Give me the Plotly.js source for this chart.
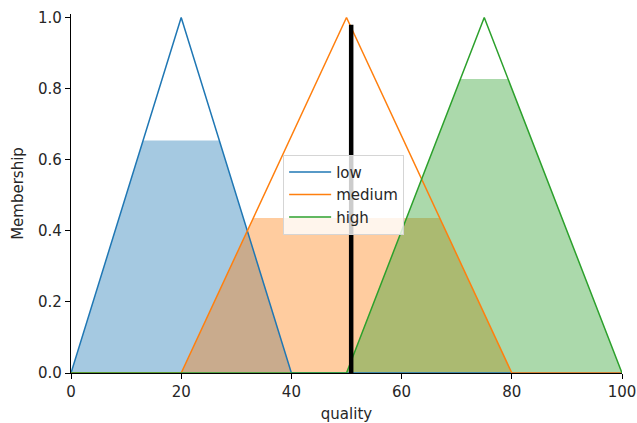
<!DOCTYPE html>
<html>
<head>
<meta charset="utf-8">
<script src="https://cdn.plot.ly/plotly-3.0.1.min.js"></script>
<style>html,body{margin:0;padding:0;background:#fff;}#chart{width:637px;height:423px;}</style>
</head>
<body>
<div id="chart"></div>
<script>
// Membership functions over the universe "quality"
const termNames = ["low", "medium", "high"];
const lowX = [0, 20, 40, 100];
const lowY = [0, 1, 0, 0];
const mediumX = [0, 20, 50, 80, 100];
const mediumY = [0, 0, 1, 0, 0];
const highX = [0, 50, 75, 100];
const highY = [0, 0, 1, 0];
// Activation (clip) levels of each term
const activation = [0.654, 0.436, 0.827];
// Defuzzified crisp output
const crispX = 50.85;
const crispY = 0.98;

const colors = ["#1f77b4", "#ff7f0e", "#2ca02c"];
const fills = ["rgba(31,119,180,0.4)", "rgba(255,127,14,0.4)", "rgba(44,160,44,0.4)"];

function clip(xs, ys, L) {
  const ox = [], oy = [];
  for (let i = 0; i < xs.length; i++) {
    if (i > 0) {
      const y0 = ys[i-1], y1 = ys[i];
      if ((y0 - L) * (y1 - L) < 0) {
        const t = (L - y0) / (y1 - y0);
        ox.push(xs[i-1] + t * (xs[i] - xs[i-1]));
        oy.push(L);
      }
    }
    ox.push(xs[i]);
    oy.push(Math.min(ys[i], L));
  }
  return [ox, oy];
}

const sets = [[lowX, lowY], [mediumX, mediumY], [highX, highY]];
const traces = [];
sets.forEach((s, i) => {
  const c = clip(s[0], s[1], activation[i]);
  traces.push({x: c[0], y: c[1], type: "scatter", mode: "lines", fill: "tozeroy",
    fillcolor: fills[i], line: {width: 0, color: fills[i]}, showlegend: false, hoverinfo: "skip"});
});
sets.forEach((s, i) => {
  traces.push({x: s[0], y: s[1], type: "scatter", mode: "lines", name: termNames[i],
    line: {color: colors[i], width: 1.5}});
});
traces.push({x: [crispX, crispX], y: [0, crispY], type: "scatter", mode: "lines",
  line: {color: "#000", width: 4.5}, showlegend: false});

const font = {family: "DejaVu Sans, sans-serif", size: 15, color: "#262626"};
const layout = {
  width: 637, height: 423,
  margin: {l: 71, r: 15, t: 14, b: 50},
  paper_bgcolor: "#fff", plot_bgcolor: "#fff",
  font: font,
  showlegend: true,
  legend: {x: 0.385, y: 0.608, xanchor: "left", yanchor: "top",
    bgcolor: "rgba(255,255,255,0.8)", bordercolor: "#d5d5d5", borderwidth: 1,
    font: {family: "DejaVu Sans, sans-serif", size: 15, color: "#262626"},
    itemwidth: 42, tracegroupgap: 0},
  xaxis: {range: [0, 100], tickvals: [0, 20, 40, 60, 80, 100], showgrid: false, zeroline: false,
    showline: true, linecolor: "#000", linewidth: 1.2, ticks: "outside", ticklen: 5,
    tickcolor: "#000", tickwidth: 1, title: {text: "quality", standoff: 9, font: font}},
  yaxis: {range: [0, 1.01], tickvals: [0, 0.2, 0.4, 0.6, 0.8, 1.0], tickformat: ".1f",
    showgrid: false, zeroline: false, showline: true, linecolor: "#000", linewidth: 1.2,
    ticks: "outside", ticklen: 5, tickcolor: "#000", tickwidth: 1,
    title: {text: "Membership", standoff: 10, font: font}}
};
Plotly.newPlot("chart", traces, layout, {displayModeBar: false, staticPlot: true});
</script>
</body>
</html>
